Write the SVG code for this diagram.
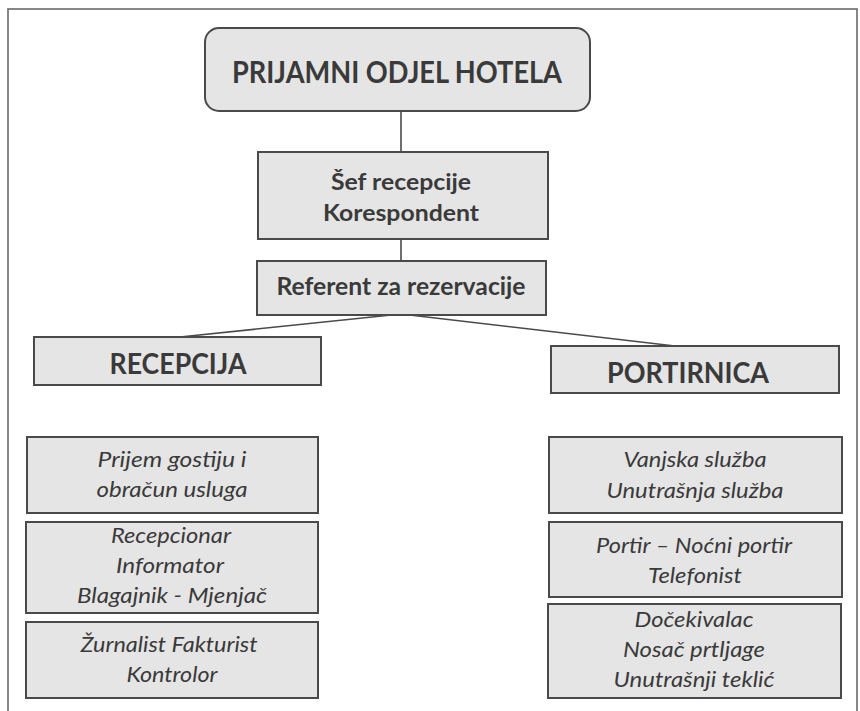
<svg xmlns="http://www.w3.org/2000/svg" width="860" height="711" viewBox="0 0 860 711">
<style>
.box{fill:#e5e5e5;stroke:#4a4a4a;stroke-width:2}
.b{font-family:Lato,"Open Sans","Liberation Sans",sans-serif;font-weight:bold;fill:#3a3a3a;text-anchor:middle}
.i{font-family:Lato,"Open Sans","Liberation Sans",sans-serif;font-style:italic;font-size:21px;fill:#3a3a3a;text-anchor:middle}
.c{stroke:#4a4a4a;stroke-width:1.6;fill:none}
</style>
<rect x="0" y="0" width="860" height="711" fill="#ffffff"/>
<rect id="frame" x="8" y="9" width="849" height="712" fill="none" stroke="#6a6a6a" stroke-width="1.6"/>
<g id="connectors">
<line class="c" x1="401" y1="111" x2="401" y2="152"/>
<line class="c" x1="401" y1="239" x2="401" y2="261"/>
<line class="c" x1="401" y1="314" x2="180" y2="337"/>
<line class="c" x1="401" y1="314" x2="675" y2="346"/>
</g>
<g id="n-title">
<rect class="box" x="205" y="28" width="385" height="83" rx="14"/>
<text class="b" x="397" y="83" font-size="30" textLength="330" lengthAdjust="spacingAndGlyphs">PRIJAMNI ODJEL HOTELA</text>
</g>
<g id="n-sef">
<rect class="box" x="258" y="152" width="290" height="87"/>
<text class="b" x="401" y="190" font-size="23" textLength="140" lengthAdjust="spacingAndGlyphs">Šef recepcije</text>
<text class="b" x="401" y="221" font-size="23" textLength="156" lengthAdjust="spacingAndGlyphs">Korespondent</text>
</g>
<g id="n-referent">
<rect class="box" x="257" y="261" width="289" height="54"/>
<text class="b" x="401" y="295" font-size="24" textLength="249" lengthAdjust="spacingAndGlyphs">Referent za rezervacije</text>
</g>
<g id="n-recepcija">
<rect class="box" x="34" y="337" width="287" height="48"/>
<text class="b" x="178" y="374" font-size="29" textLength="137" lengthAdjust="spacingAndGlyphs">RECEPCIJA</text>
</g>
<g id="n-portirnica">
<rect class="box" x="551" y="346" width="288" height="47"/>
<text class="b" x="688" y="383" font-size="28" textLength="162" lengthAdjust="spacingAndGlyphs">PORTIRNICA</text>
</g>
<g id="n-l1">
<rect class="box" x="27" y="437" width="291" height="76"/>
<text class="i" x="172" y="467" textLength="149" lengthAdjust="spacingAndGlyphs">Prijem gostiju i</text>
<text class="i" x="172" y="497" textLength="151" lengthAdjust="spacingAndGlyphs">obračun usluga</text>
</g>
<g id="n-l2">
<rect class="box" x="26" y="522" width="292" height="91"/>
<text class="i" x="171" y="543" textLength="120" lengthAdjust="spacingAndGlyphs">Recepcionar</text>
<text class="i" x="170" y="573" textLength="108" lengthAdjust="spacingAndGlyphs">Informator</text>
<text class="i" x="172" y="603" textLength="190" lengthAdjust="spacingAndGlyphs">Blagajnik - Mjenjač</text>
</g>
<g id="n-l3">
<rect class="box" x="26" y="622" width="292" height="76"/>
<text class="i" x="169" y="652" textLength="177" lengthAdjust="spacingAndGlyphs">Žurnalist Fakturist</text>
<text class="i" x="172" y="682" textLength="91" lengthAdjust="spacingAndGlyphs">Kontrolor</text>
</g>
<g id="n-r1">
<rect class="box" x="549" y="437" width="293" height="76"/>
<text class="i" x="695" y="467" textLength="143" lengthAdjust="spacingAndGlyphs">Vanjska služba</text>
<text class="i" x="695" y="498" textLength="177" lengthAdjust="spacingAndGlyphs">Unutrašnja služba</text>
</g>
<g id="n-r2">
<rect class="box" x="549" y="522" width="293" height="75"/>
<text class="i" x="694" y="553" textLength="196" lengthAdjust="spacingAndGlyphs">Portir – Noćni portir</text>
<text class="i" x="695" y="583" textLength="94" lengthAdjust="spacingAndGlyphs">Telefonist</text>
</g>
<g id="n-r3">
<rect class="box" x="548" y="604" width="293" height="94"/>
<text class="i" x="694" y="627" textLength="119" lengthAdjust="spacingAndGlyphs">Dočekivalac</text>
<text class="i" x="694" y="657" textLength="142" lengthAdjust="spacingAndGlyphs">Nosač prtljage</text>
<text class="i" x="694" y="687" textLength="161" lengthAdjust="spacingAndGlyphs">Unutrašnji teklić</text>
</g>
</svg>
